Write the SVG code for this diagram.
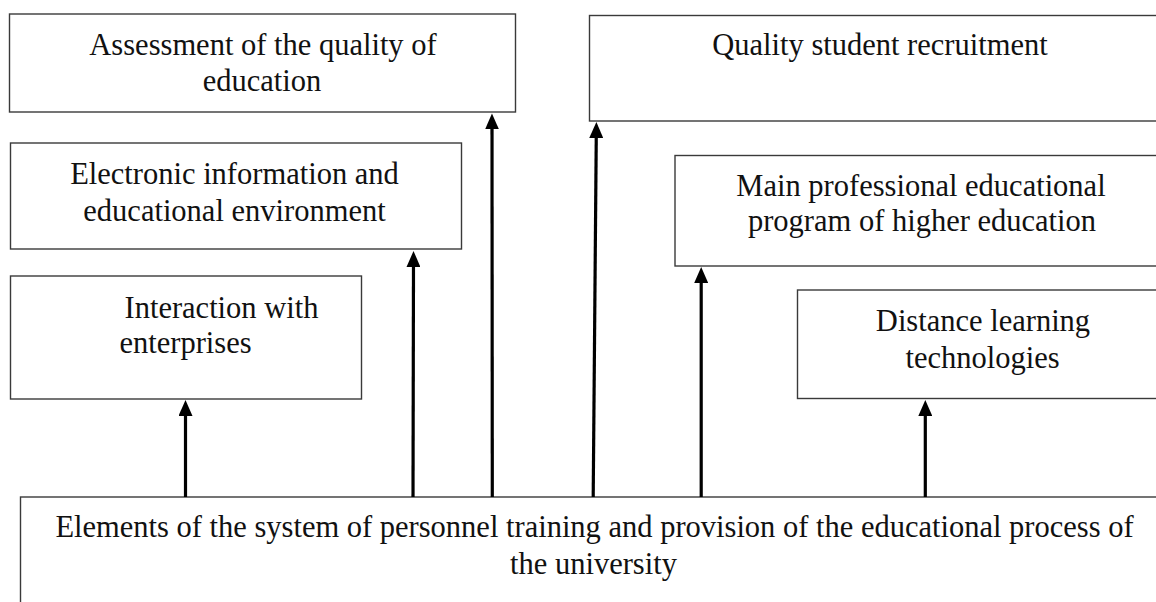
<svg xmlns="http://www.w3.org/2000/svg" width="1156" height="602" viewBox="0 0 1156 602">
<style>
.box{fill:#fff;stroke:#3a3a3a;stroke-width:1.4}
.t{font-family:"Liberation Serif","Times New Roman",serif;font-size:30.5px;fill:#111}
.m{text-anchor:middle}
.c{stroke:#000;stroke-width:3.2;fill:none}
</style>
<defs>
<marker id="ah" viewBox="0 0 16 14" refX="6" refY="7" markerWidth="16" markerHeight="14" markerUnits="userSpaceOnUse" orient="auto">
<path d="M0,0 L16,7 L0,14 z" fill="#000"/>
</marker>
</defs>
<rect width="1156" height="602" fill="#fff"/>
<g id="n-assessment">
<rect class="box" x="9.5" y="14" width="506" height="98"/>
<text class="t m" x="263" y="55">Assessment of the quality of</text>
<text class="t m" x="262" y="91">education</text>
</g>
<g id="n-electronic">
<rect class="box" x="10.5" y="143" width="451" height="106"/>
<text class="t m" x="234.5" y="184">Electronic information and</text>
<text class="t m" x="234.5" y="221">educational environment</text>
</g>
<g id="n-interaction">
<rect class="box" x="10.5" y="276" width="351" height="123"/>
<text class="t" x="124.5" y="318">Interaction with</text>
<text class="t" x="119.5" y="353">enterprises</text>
</g>
<g id="n-quality">
<rect class="box" x="589.5" y="15.5" width="580" height="105.5"/>
<text class="t m" x="880" y="55">Quality student recruitment</text>
</g>
<g id="n-main">
<rect class="box" x="675" y="155.5" width="500" height="110.5"/>
<text class="t m" x="921" y="196">Main professional educational</text>
<text class="t m" x="922" y="231">program of higher education</text>
</g>
<g id="n-distance">
<rect class="box" x="797.5" y="290" width="380" height="108.5"/>
<text class="t m" x="983" y="331">Distance learning</text>
<text class="t m" x="982.5" y="368">technologies</text>
</g>
<g id="n-elements">
<rect class="box" x="20.5" y="497" width="1160" height="120"/>
<text class="t m" x="594.5" y="537">Elements of the system of personnel training and provision of the educational process of</text>
<text class="t m" x="593.5" y="574">the university</text>
</g>
<g id="connectors">
<line class="c" x1="185.5" y1="497" x2="185.5" y2="410" marker-end="url(#ah)"/>
<line class="c" x1="413" y1="497" x2="413.5" y2="261" marker-end="url(#ah)"/>
<line class="c" x1="492.3" y1="497" x2="492" y2="123.5" marker-end="url(#ah)"/>
<line class="c" x1="593.2" y1="497" x2="596.3" y2="132" marker-end="url(#ah)"/>
<line class="c" x1="701.2" y1="497" x2="701.2" y2="277" marker-end="url(#ah)"/>
<line class="c" x1="925.3" y1="497" x2="925.3" y2="410" marker-end="url(#ah)"/>
</g>
</svg>
